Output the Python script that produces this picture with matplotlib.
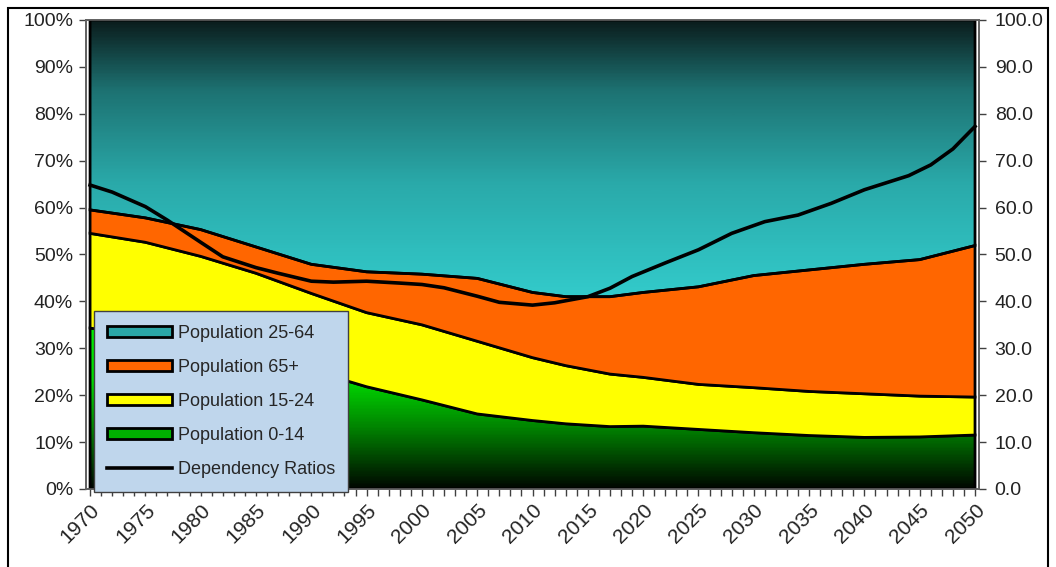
import numpy as np
import matplotlib
matplotlib.use("Agg")
from matplotlib import pyplot as plt
from matplotlib.patches import Polygon, Patch, Rectangle
from matplotlib.lines import Line2D
from matplotlib.ticker import PercentFormatter, FormatStrFormatter
from matplotlib.colors import LinearSegmentedColormap

plt.rcParams['font.family'] = ['Liberation Sans', 'DejaVu Sans']

# population shares (%)
years = [1970, 1975, 1980, 1985, 1990, 1995, 2000, 2005, 2010, 2013,
         2017, 2020, 2025, 2030, 2035, 2040, 2045, 2050]
pop_0_14 = [34.3, 32.8, 30.8, 28.4, 25.3, 21.8, 19.0, 16.0, 14.6, 13.9,
            13.3, 13.4, 12.7, 12.0, 11.4, 11.0, 11.1, 11.5]
pop_15_24 = [20.2, 19.8, 18.8, 17.6, 16.4, 15.8, 16.0, 15.5, 13.4, 12.4,
             11.2, 10.4, 9.6, 9.6, 9.4, 9.3, 8.7, 8.1]
pop_65 = [5.0, 5.2, 5.7, 5.6, 6.2, 8.7, 10.8, 13.4, 13.9, 14.7,
          16.5, 18.1, 20.8, 23.9, 25.9, 27.6, 29.1, 32.3]
pop_25_64 = [40.5, 42.2, 44.7, 48.4, 52.1, 53.7, 54.2, 55.1, 58.1, 59.0,
             59.0, 58.1, 56.9, 54.5, 53.3, 52.1, 51.1, 48.1]

dep_years = [1970, 1972, 1975, 1977, 1980, 1982, 1985, 1987, 1990, 1992,
             1995, 1998, 2000, 2002, 2005, 2007, 2010, 2012, 2015, 2017,
             2019, 2022, 2025, 2028, 2031, 2034, 2037, 2040, 2044, 2046,
             2048, 2050]
dep_ratio = [64.8, 63.3, 60.2, 57.3, 52.6, 49.5, 47.2, 46.0, 44.3, 44.1,
             44.3, 43.9, 43.6, 42.9, 41.1, 39.8, 39.2, 39.7, 41.0, 42.8,
             45.3, 48.2, 51.0, 54.5, 57.0, 58.4, 60.9, 63.8, 66.8, 69.1,
             72.5, 77.3]

x = np.array(years, dtype=float)
layers = np.array([pop_0_14, pop_15_24, pop_65, pop_25_64])
tops = np.cumsum(layers, axis=0)
bottoms = np.vstack([np.zeros(len(x)), tops[:-1]])

fig = plt.figure(figsize=(10.56, 5.67), dpi=100)
ax = fig.add_axes([0.0811, 0.1376, 0.8464, 0.8272])
xmin, xmax = 1969.6, 2050.4
ax.set_xlim(xmin, xmax)
ax.set_ylim(0, 100)

# gradients run over the full 0-100 height
green_cmap = LinearSegmentedColormap.from_list(
    'g', [(0, '#000800'), (0.13, '#008400'), (0.23, '#00d800'),
          (0.34, '#00f000'), (1, '#00f000')])
teal_cmap = LinearSegmentedColormap.from_list(
    't', [(0, '#33cccc'), (0.4, '#33cccc'), (0.65, '#2aaaaa'),
          (0.85, '#1d7272'), (1, '#0b1c1c')])
gradients = {0: green_cmap, 3: teal_cmap}
solid = {1: '#ffff00', 2: '#ff6600'}

grad = np.linspace(0, 1, 400).reshape(-1, 1)
for i in range(4):
    verts = np.vstack([np.column_stack([x, tops[i]]),
                       np.column_stack([x[::-1], bottoms[i][::-1]])])
    if i in gradients:
        poly = Polygon(verts, closed=True, facecolor='none', edgecolor='black',
                       lw=2, zorder=3)
        ax.add_patch(poly)
        im = ax.imshow(grad, cmap=gradients[i], origin='lower', aspect='auto',
                       extent=(xmin, xmax, 0, 100), zorder=2)
        im.set_clip_path(poly)
    else:
        poly = Polygon(verts, closed=True, facecolor=solid[i], edgecolor='black',
                       lw=2, zorder=3)
        ax.add_patch(poly)

ax.set_xlim(xmin, xmax)
ax.set_ylim(0, 100)

ax.set_yticks(range(0, 101, 10))
ax.yaxis.set_major_formatter(PercentFormatter(decimals=0))
ax.set_xticks(range(1970, 2051, 5))
ax.set_xticks(range(1970, 2051, 1), minor=True)
ax.tick_params(axis='x', which='both', direction='out', length=5, width=1,
               labelsize=15, color='#404040', labelcolor='#222222')
ax.tick_params(axis='y', direction='out', length=5, width=1, labelsize=14,
               color='#404040', labelcolor='#222222', pad=4)
for lab in ax.get_xticklabels():
    lab.set_rotation(45)
    lab.set_ha('right')
    lab.set_rotation_mode('anchor')
for s in ax.spines.values():
    s.set_color('#606060')
    s.set_linewidth(1.2)

ax2 = ax.twinx()
ax2.set_ylim(0, 100)
ax2.set_yticks(range(0, 101, 10))
ax2.yaxis.set_major_formatter(FormatStrFormatter('%.1f'))
ax2.tick_params(axis='y', direction='out', length=5, width=1, labelsize=14,
                color='#404040', labelcolor='#222222', pad=6)
for s in ax2.spines.values():
    s.set_color('#606060')
    s.set_linewidth(1.2)
ax2.plot(dep_years, dep_ratio, color='black', lw=2.6, zorder=5)

handles = [
    Patch(facecolor='#2aa6a6', edgecolor='black', lw=2),
    Patch(facecolor='#ff6600', edgecolor='black', lw=2),
    Patch(facecolor='#ffff00', edgecolor='black', lw=2),
    Patch(facecolor='#00b000', edgecolor='black', lw=2),
    Line2D([0], [0], color='black', lw=2.6),
]
leg_labels = ['Population 25-64', 'Population 65+', 'Population 15-24',
              'Population 0-14', 'Dependency Ratios']
leg = ax2.legend(handles, leg_labels, loc='lower left',
                 bbox_to_anchor=(0.009, -0.006), fontsize=13,
                 frameon=True, fancybox=False, framealpha=1,
                 facecolor='#bfd6ec', edgecolor='#404040',
                 handlelength=3.6, handleheight=0.6, handletextpad=0.3,
                 labelspacing=0.95, borderpad=0.75, borderaxespad=0)
leg.get_frame().set_linewidth(1)
for t in leg.get_texts():
    t.set_color('#262626')
leg.set_zorder(10)

fig.add_artist(Rectangle((8 / 1056, -0.05), 1040 / 1056, 559 / 567 + 0.05,
                         transform=fig.transFigure, fill=False,
                         edgecolor='black', lw=1.5))

fig.savefig('out.png', dpi=100)
